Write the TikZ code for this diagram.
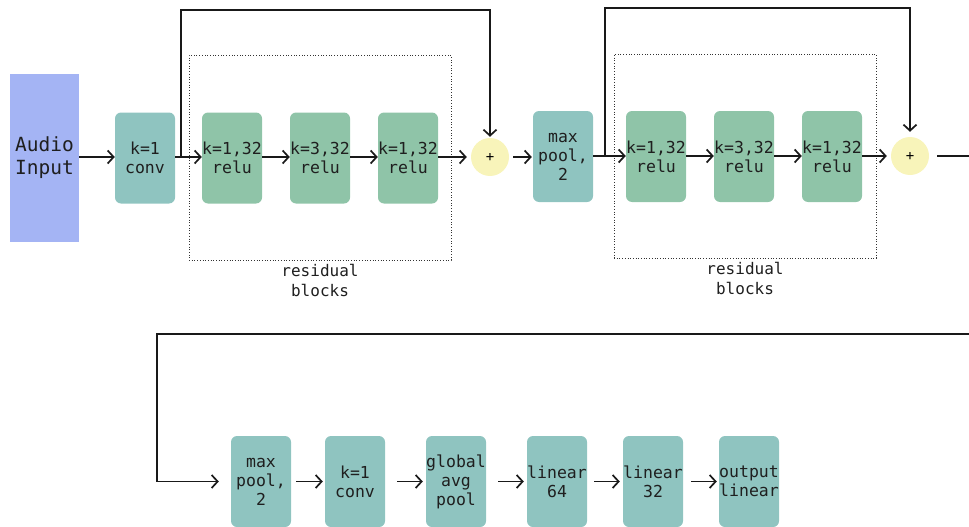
\documentclass[tikz,border=0pt]{standalone}
\usepackage{fontspec}
\setmonofont{DejaVu Sans Mono}
\usetikzlibrary{arrows.meta}
\definecolor{audioblue}{RGB}{164,180,244}
\definecolor{tealbox}{RGB}{143,196,192}
\definecolor{greenbox}{RGB}{143,196,168}
\definecolor{plusyellow}{RGB}{248,244,186}
\tikzset{
  x=1pt, y=1pt,
  boxbase/.style={rectangle, rounded corners=6pt, draw=none, minimum width=60pt, minimum height=91pt, inner sep=0pt, align=center, text=black!88, font=\ttfamily\fontsize{16.5}{19}\selectfont},
  tealnode/.style={boxbase, fill=tealbox},
  greennode/.style={boxbase, fill=greenbox},
  plusnode/.style={circle, fill=plusyellow, minimum size=38pt, inner sep=0pt, font=\ttfamily\fontsize{14}{14}\selectfont},
  flow/.style={line width=1.7pt, black!90, -{Straight Barb[length=6pt,width=13pt,line width=1.7pt]}},
  plainline/.style={line width=1.7pt, black!90},
  groupbox/.style={draw=black!80, dotted, line width=0.7pt},
  grouplabel/.style={align=center, text=black!88, font=\ttfamily\fontsize{16}{20}\selectfont}
}
\begin{document}
\begin{tikzpicture}
\useasboundingbox (0,0) rectangle (969,-527);
% residual group boxes
\node[groupbox, minimum width=262pt, minimum height=205pt, inner sep=0pt] (g1) at (320,-157.5) {};
\node[groupbox, minimum width=262pt, minimum height=204pt, inner sep=0pt] (g2) at (745,-156) {};
\node[grouplabel] (lab1) at (320,-280) {residual\\blocks};
\node[grouplabel] (lab2) at (745,-278) {residual\\blocks};
% top row
\node[rectangle, fill=audioblue, minimum width=69pt, minimum height=167pt, inner sep=0pt, align=center, text=black!88, font=\ttfamily\fontsize{19.5}{23}\selectfont] (audio) at (44.5,-158) {Audio\\Input};
\node[tealnode] (conv1) at (145,-158) {k=1\\conv};
\node[greennode] (b1) at (232,-158) {k=1,32\\relu};
\node[greennode] (b2) at (320,-158) {k=3,32\\relu};
\node[greennode] (b3) at (408,-158) {k=1,32\\relu};
\node[plusnode] (p1) at (490,-157) {+};
\node[tealnode] (mp1) at (563,-156.5) {max\\pool,\\2};
\node[greennode] (c1) at (656,-156.5) {k=1,32\\relu};
\node[greennode] (c2) at (744,-156.5) {k=3,32\\relu};
\node[greennode] (c3) at (832,-156.5) {k=1,32\\relu};
\node[plusnode] (p2) at (910,-156) {+};
% bottom row
\node[tealnode] (mp2) at (261,-481.5) {max\\pool,\\2};
\node[tealnode] (conv2) at (355,-481.5) {k=1\\conv};
\node[tealnode] (gap) at (456,-481.5) {global\\avg\\pool};
\node[tealnode] (l64) at (557,-481.5) {linear\\64};
\node[tealnode] (l32) at (653,-481.5) {linear\\32};
\node[tealnode] (outl) at (749,-481.5) {output\\linear};
% helper coordinates
\coordinate (s1) at (181,-157);
\coordinate (s2) at (605,-156);
\coordinate (e1) at (969,-156);
\coordinate (r1) at (969,-334);
\coordinate (l1) at (157,-334);
% top connectors
\draw[flow] (audio.east |- 0,-157) -- (conv1.west |- 0,-157);
\draw[flow] (conv1.east |- 0,-157) -- (b1.west |- 0,-157);
\draw[flow] (b1.east |- 0,-157) -- (b2.west |- 0,-157);
\draw[flow] (b2.east |- 0,-157) -- (b3.west |- 0,-157);
\draw[flow, shorten >=4pt] (b3.east |- 0,-157) -- (p1.west);
\draw[flow, shorten <=4pt, shorten >=1pt] (p1.east) -- (mp1.west |- p1.east);
\draw[flow] (s1) -- ++(0,147) -| ([yshift=1pt]p1.north);
\draw[flow] (mp1.east |- s2) -- (c1.west |- s2);
\draw[flow] (c1.east |- s2) -- (c2.west |- s2);
\draw[flow] (c2.east |- s2) -- (c3.west |- s2);
\draw[flow, shorten >=4pt] (c3.east |- s2) -- (p2.west);
\draw[flow] (s2) -- ++(0,148) -| ([yshift=5pt]p2.north);
\draw[plainline, shorten <=8pt] (p2.east) -- (e1);
% bottom connectors
\draw[flow, shorten >=12pt] (r1) -- (l1) |- (mp2.west);
\draw[flow, shorten <=5pt, shorten >=2pt] (mp2.east) -- (conv2.west);
\draw[flow, shorten <=12pt, shorten >=3pt] (conv2.east) -- (gap.west);
\draw[flow, shorten <=12pt, shorten >=3pt] (gap.east) -- (l64.west);
\draw[flow, shorten <=7pt, shorten >=3pt] (l64.east) -- (l32.west);
\draw[flow, shorten <=8pt, shorten >=2pt] (l32.east) -- (outl.west);
\end{tikzpicture}
\end{document}
